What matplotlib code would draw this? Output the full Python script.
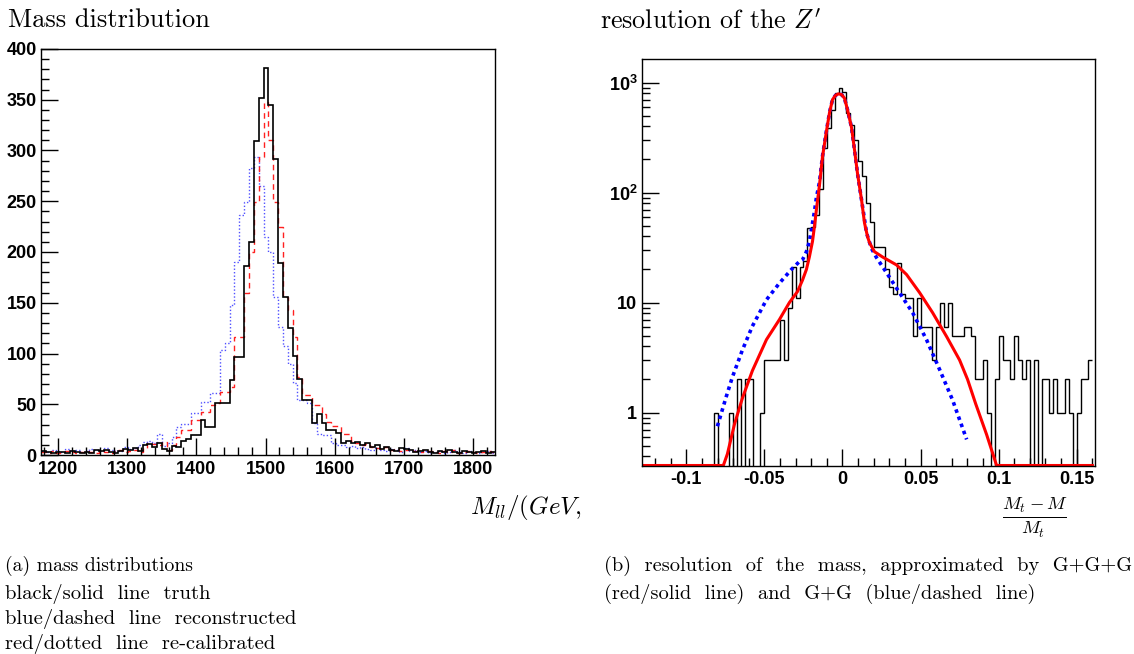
import numpy as np
import matplotlib
matplotlib.use("Agg")
import matplotlib.pyplot as plt
from matplotlib.ticker import MultipleLocator, LogLocator, NullFormatter

# left panel: mass histograms, 7 GeV bins from 1175 to 1833 GeV
mass_lo, mass_hi, mass_nbins = 1175, 1833, 94
truth = [4, 3, 2, 3, 3, 2, 4, 3, 2, 3, 2, 5, 4, 5, 3, 2, 4, 6,
         5, 7, 4, 10, 11, 8, 12, 6, 4, 9, 8, 14, 16, 20, 20, 34, 28, 28, 51, 51,
         51, 74, 97, 97, 186, 210, 309, 352, 381, 345, 292, 189, 156, 125, 98, 75,
         54, 54, 32, 40, 32, 25, 25, 22, 12, 14, 12, 13, 10, 12, 8, 10, 6, 8,
         5, 4, 7, 6, 5, 3, 4, 5, 3, 2, 4, 3, 5, 3, 2, 4, 3, 2, 3, 4, 2, 3]
recon = [4, 3, 5, 4, 3, 6, 4, 5, 3, 4, 6, 5, 4, 7, 5, 4,
         4, 8, 6, 7, 10, 13, 14, 12, 21, 9, 12, 18, 28, 31, 31, 41, 41, 52, 52, 61,
         61, 103, 110, 148, 190, 236, 249, 283, 294, 265, 215, 200, 156, 126, 107, 90,
         71, 54, 54, 51, 32, 21, 20, 20, 12, 10, 10, 8, 9, 7, 8, 6, 5, 7,
         5, 4, 6, 5, 3, 7, 4, 5, 3, 4, 2, 3, 4, 2, 3, 5, 3, 2, 4, 3, 2, 3, 4, 2]
recal = [3, 2, 4, 2, 3, 4, 3, 2, 3, 4, 3, 2, 4, 3, 2, 4, 5, 3,
         4, 5, 3, 7, 12, 11, 10, 13, 5, 10, 18, 25, 25, 34, 34, 42, 42, 49,
         51, 62, 62, 67, 116, 116, 160, 200, 249, 294, 348, 310, 249, 225, 156, 143,
         116, 77, 59, 59, 49, 49, 40, 33, 29, 29, 21, 21, 14, 12, 10, 11,
         8, 7, 6, 8, 5, 6, 4, 5, 6, 4, 3, 5, 4, 3, 2, 4, 3, 5, 2, 3, 4, 3, 2, 3, 4, 3]
mass_ticks = [1200, 1300, 1400, 1500, 1600, 1700, 1800]
count_ticks = [0, 50, 100, 150, 200, 250, 300, 350, 400]

# right panel: resolution histogram, 116 bins from -0.13 to 0.16
res_lo, res_hi, res_nbins = -0.13, 0.16, 116
resol = [0] * 19 + [1, 0, 0, 0, 1, 0, 2, 0, 2, 2, 0, 0, 1, 3, 3, 3, 3, 7, 3, 9,
         21, 11, 21, 24, 48, 49, 63, 107, 257, 390, 563, 805, 895, 816, 533, 415,
         303, 193, 141, 80, 54, 32, 32, 32, 20, 14, 12, 23, 12, 11, 11, 5, 11, 6,
         6, 6, 3, 6, 10, 6, 10, 5, 5, 5, 6, 6, 5, 2, 2, 3, 1, 0, 2, 5, 3, 3, 2, 5,
         3, 2, 3, 0, 3, 0, 2, 2, 1, 2, 1, 1, 2, 1, 0, 1, 2, 2, 3]

# fit curves (G+G+G red, G+G blue)
ggg_x = [-0.13, -0.0763, -0.0737, -0.0692, -0.0641, -0.0577, -0.0487, -0.0404,
         -0.034, -0.0288, -0.0256, -0.0231, -0.0212, -0.0192, -0.0179, -0.0167,
         -0.0147, -0.0128, -0.0103, -0.0083, -0.0064, -0.0045, -0.0026, -0.0006,
         0.0013, 0.0032, 0.0058, 0.0077, 0.0096, 0.0122, 0.0141, 0.016, 0.0173,
         0.0205, 0.0256, 0.0346, 0.041, 0.0494, 0.0577, 0.0667, 0.075, 0.0801,
         0.0853, 0.0923, 0.0987, 0.16]
ggg_y = [0.33, 0.33, 0.42, 0.78, 1.35, 2.4, 4.6, 7, 10, 12.6, 16, 20, 26, 36, 50,
         70, 118, 212, 359, 533, 700, 765, 790, 780, 720, 568, 390, 245, 150, 86,
         53, 40, 35, 29, 26, 22, 18, 12.3, 8.1, 4.9, 3.0, 2.0, 1.2, 0.63, 0.33, 0.33]
gg_x = [-0.0801, -0.0744, -0.0705, -0.0641, -0.0577, -0.0487, -0.0404, -0.0327,
        -0.0276, -0.0256, -0.0231, -0.0212, -0.0199, -0.0179, -0.0167, -0.0147,
        -0.0128, -0.0103, -0.0083, -0.0064, -0.0045, -0.0026, -0.0006, 0.0013,
        0.0032, 0.0058, 0.0077, 0.0096, 0.0122, 0.0154, 0.0186, 0.0218, 0.0282,
        0.0365, 0.0449, 0.0538, 0.0622, 0.0705, 0.0795]
gg_y = [0.75, 1.4, 2.1, 3.7, 6.1, 10.6, 15, 20, 23.6, 24.5, 29, 36, 46, 68, 90,
        125, 215, 362, 535, 700, 765, 790, 780, 720, 568, 390, 245, 150, 86, 43,
        31, 25.6, 18.7, 12.3, 8.1, 4.6, 2.46, 1.3, 0.57]
res_ticks = [-0.1, -0.05, 0, 0.05, 0.1, 0.15]
res_tick_labels = ['-0.1', '-0.05', '0', '0.05', '0.1', '0.15']
dec_ticks = [1, 10, 100, 1000]
dec_labels = ['1', '10', r'$10^{2}$', r'$10^{3}$']

plt.rcParams['mathtext.fontset'] = 'custom'
plt.rcParams['mathtext.rm'] = 'Liberation Sans:bold'
plt.rcParams['mathtext.it'] = 'Liberation Sans:bold'
plt.rcParams['mathtext.bf'] = 'Liberation Sans:bold'

fig = plt.figure(figsize=(11.34, 6.54), dpi=100)
tick_font = dict(family='Liberation Sans', weight='bold', size=13)
serif = 'cmr10'


def style_axes(ax):
    for s in ax.spines.values():
        s.set_linewidth(1.0)
        s.set_color('black')
    ax.tick_params(which='major', direction='in', length=12, width=1,
                   top=False, right=False)
    ax.tick_params(which='minor', direction='in', length=6, width=1,
                   top=False, right=False)
    ax.tick_params(axis='x', which='major', pad=4)
    ax.tick_params(axis='y', which='major', pad=3)


# left
ax1 = fig.add_axes([41 / 1134, 1 - 455 / 654, 454 / 1134, 406 / 654])
mass_edges = np.linspace(mass_lo, mass_hi, mass_nbins + 1)
ax1.stairs(recon, mass_edges, baseline=None, color='#5050ff', lw=1.0,
           linestyle=(0, (1, 1.5)))
ax1.stairs(recal, mass_edges, baseline=None, color='#ff2020', lw=1.0,
           linestyle=(0, (4, 3)))
ax1.stairs(truth, mass_edges, baseline=None, color='black', lw=1.2)
ax1.set_xlim(mass_lo, 1832)
ax1.set_ylim(0, 400)
ax1.set_xticks(mass_ticks, labels=[str(t) for t in mass_ticks], **tick_font)
ax1.set_yticks(count_ticks, labels=[str(t) for t in count_ticks], **tick_font)
ax1.xaxis.set_minor_locator(MultipleLocator(20))
ax1.yaxis.set_minor_locator(MultipleLocator(10))
style_axes(ax1)

# right
ax2 = fig.add_axes([641.5 / 1134, 1 - 465.5 / 654, 453.5 / 1134, 406.5 / 654])
res_edges = np.linspace(res_lo, res_hi, res_nbins + 1)
res_vals = np.array(resol, dtype=float)
res_vals = np.where(res_vals > 0, res_vals, 1e-2)
ax2.set_yscale('log')
ax2.stairs(res_vals, res_edges, baseline=None, color='black', lw=1.0)
ax2.plot(gg_x, gg_y, color='blue', lw=2.6, linestyle=(0, (1, 1.1)))
ax2.plot(ggg_x, ggg_y, color='red', lw=2.2)
ax2.set_xlim(-0.1287, 0.1617)
ax2.set_ylim(0.33, 1640)
ax2.set_xticks(res_ticks, labels=res_tick_labels, **tick_font)
ax2.set_yticks(dec_ticks, labels=dec_labels, **tick_font)
ax2.xaxis.set_minor_locator(MultipleLocator(0.01))
ax2.yaxis.set_minor_locator(LogLocator(base=10, subs=np.arange(2, 10)))
ax2.yaxis.set_minor_formatter(NullFormatter())
style_axes(ax2)

# titles and axis labels
fig.text(8 / 1134, 1 - 20 / 654, 'Mass distribution', family=serif, size=19,
         va='center', ha='left')
fig.text(600 / 1134, 1 - 22 / 654, "resolution of the $Z'$", family=serif,
         size=18.7, va='center', ha='left', math_fontfamily='cm')
fig.text(470 / 1134, 1 - 507 / 654, r'$M_{ll}/(GeV,$', size=18, va='center',
         ha='left', math_fontfamily='cm')
fig.text(1035 / 1134, 1 - 517 / 654, r'$\frac{M_t-M}{M_t}$', size=19,
         va='center', ha='center', math_fontfamily='cm')

# captions
cap_a = ['(a) mass distributions', 'black/solid  line  truth',
         'blue/dashed  line  reconstructed', 'red/dotted  line  re-calibrated']
cap_b = ['(b)  resolution  of  the  mass,  approximated  by  G+G+G',
         '(red/solid  line)  and  G+G  (blue/dashed  line)']
for k, ypix in enumerate([566, 594, 619, 644]):
    fig.text(5 / 1134, 1 - ypix / 654, cap_a[k], family=serif,
             size=14.2 if k == 0 else 14.8, va='center', ha='left')
for k, ypix in enumerate([566, 594]):
    fig.text(604 / 1134, 1 - ypix / 654, cap_b[k], family=serif, size=14.7,
             va='center', ha='left')

fig.savefig('out.png', dpi=100)
